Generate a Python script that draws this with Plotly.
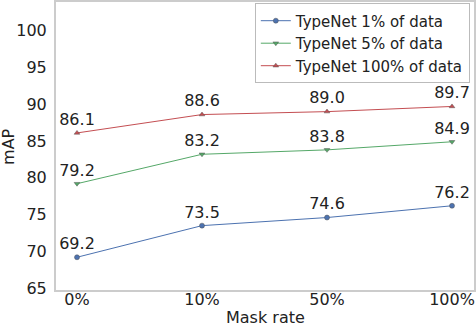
import plotly.graph_objects as go

mask_rates = ['0%', '10%', '50%', '100%']
map_1pct = [69.2, 73.5, 74.6, 76.2]
map_5pct = [79.2, 83.2, 83.8, 84.9]
map_100pct = [86.1, 88.6, 89.0, 89.7]

series = [
    ('TypeNet 1% of data', map_1pct, '#4c72b0', 'circle'),
    ('TypeNet 5% of data', map_5pct, '#55a868', 'triangle-down'),
    ('TypeNet 100% of data', map_100pct, '#c44e52', 'triangle-up'),
]

fig = go.Figure()
for name, vals, color, sym in series:
    fig.add_trace(go.Scatter(
        x=list(range(len(mask_rates))), y=vals, name=name,
        mode='lines+markers+text',
        text=['%.1f' % v for v in vals],
        textposition='top center',
        textfont=dict(size=16, color='#222'),
        cliponaxis=False,
        line=dict(color=color, width=1),
        marker=dict(color=color, symbol=sym, size=5,
                    line=dict(color='#555', width=0.5)),
    ))

fig.update_layout(
    width=476, height=328,
    margin=dict(l=56, r=2, t=2, b=38, autoexpand=False),
    paper_bgcolor='white', plot_bgcolor='white',
    font=dict(family='DejaVu Sans', size=16, color='#222'),
    legend=dict(x=0.99, y=0.995, xanchor='right', yanchor='top',
                bgcolor='white', bordercolor='#bbb', borderwidth=1,
                font=dict(size=15), tracegroupgap=0),
    showlegend=True,
)
fig.update_xaxes(
    tickmode='array', tickvals=list(range(len(mask_rates))), ticktext=mask_rates,
    range=[-0.168, 3.176], showgrid=False, zeroline=False, automargin=False,
    showline=True, linecolor='#ccc', linewidth=2, mirror=True,
    ticks='', ticklabelstandoff=-6,
)
fig.update_yaxes(
    range=[64.75, 103.9], dtick=5, tick0=65, showgrid=False, zeroline=False,
    automargin=False,
    showline=True, linecolor='#ccc', linewidth=2, mirror=True,
    ticks='', ticklabelstandoff=4,
)

# axis titles placed by hand
fig.add_annotation(text='Mask rate', xref='paper', yref='paper', x=0.5, y=-0.131,
                   xanchor='center', yanchor='bottom', showarrow=False, borderpad=0,
                   font=dict(size=16))
fig.add_annotation(text='mAP', xref='paper', yref='paper', x=-0.115, y=0.5,
                   xanchor='center', yanchor='middle', textangle=-90, showarrow=False,
                   font=dict(size=16))

# page body has a default 8px margin; drop it so the figure sits at 0,0
fig.write_html('out.html', config={'displayModeBar': False},
               post_script="document.body.style.margin='0';")
